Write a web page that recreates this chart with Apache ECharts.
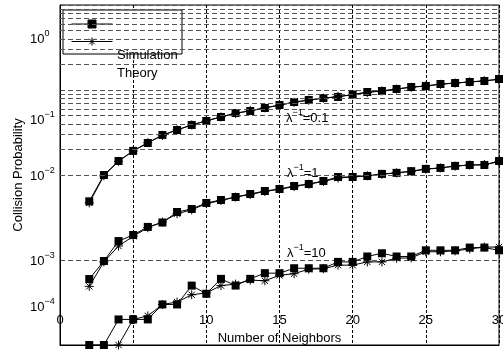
<!DOCTYPE html>
<html><head><meta charset="utf-8">
<script src="https://cdn.jsdelivr.net/npm/echarts@6/dist/echarts.min.js"></script>
<style>html,body{margin:0;padding:0;background:#fff}#c{width:503px;height:352px}</style>
</head><body><div id="c"></div>
<script>
// ---- data ----
const neighbors = [2,3,4,5,6,7,8,9,10,11,12,13,14,15,16,17,18,19,20,21,22,23,24,25,26,27,28,29,30];
// lambda^-1 = 0.1
const simA = [0.0049,0.0100,0.0146,0.0192,0.0238,0.0296,0.0338,0.0388,0.0432,0.0481,0.0536,0.0566,0.0614,0.0666,0.0722,0.0762,0.0805,0.0828,0.0885,0.0947,0.0973,0.1028,0.1085,0.1115,0.1177,0.1209,0.1242,0.1276,0.1347];
const thA  = [0.0047,0.0098,0.0145,0.0192,0.0240,0.0292,0.0340,0.0388,0.0435,0.0482,0.0530,0.0572,0.0618,0.0662,0.0718,0.0760,0.0800,0.0840,0.0880,0.0935,0.0975,0.1025,0.1075,0.1115,0.1165,0.1205,0.1245,0.1285,0.1330];
// lambda^-1 = 1
const simB = [0.000597,0.000973,0.00167,0.00197,0.00245,0.00276,0.00367,0.00398,0.00469,0.00508,0.00551,0.00598,0.00648,0.00684,0.00743,0.00784,0.00850,0.00947,0.00947,0.00973,0.0103,0.0106,0.0111,0.0118,0.0121,0.0128,0.0131,0.0131,0.0146];
const thB  = [0.00049,0.00095,0.00146,0.0019,0.0024,0.0028,0.0035,0.0039,0.0046,0.0050,0.0055,0.0059,0.0064,0.0068,0.0073,0.0078,0.0084,0.0092,0.0095,0.0098,0.0102,0.0106,0.0110,0.0117,0.0121,0.0127,0.0131,0.0133,0.0143];
// lambda^-1 = 10
const simC = [0.0001,0.0001,0.0002,0.0002,0.0002,0.0003,0.0003,0.0005,0.0004,0.0006,0.0005,0.0006,0.0007,0.0007,0.0008,0.0008,0.0008,0.00095,0.00095,0.0011,0.0012,0.0011,0.0011,0.0013,0.0013,0.0013,0.0014,0.0014,0.0013];
const thC  = [null,null,0.0001,0.0002,0.00022,0.0003,0.00032,0.00039,0.00041,0.0005,0.00052,0.00058,0.00057,0.00066,0.00069,0.00078,0.00079,0.00087,0.00087,0.00095,0.00095,0.00105,0.00106,0.00125,0.00125,0.00128,0.00135,0.00142,0.00142];
const lambdaInv = ['0.1','1','10'];
const legendNames = ['Simulation','Theory'];
const xTicks = [0,5,10,15,20,25,30];
const yDecades = [1e-4,1e-3,1e-2,1e-1,1];
const yTickLabels = [['10','\u22124'],['10','\u22123'],['10','\u22122'],['10','\u22121'],['10','0']];

// ---- styling ----
const FONT = '"Liberation Sans", Arial, Helvetica, sans-serif';
const STAR = 'path://M10,0L10,20M0,10L20,10M3,3L17,17M3,17L17,3';
const yLabelShift = [-38, 1, 1, 30, 34]; // label offset from its tick (px), same order as yDecades
const annotPos = [[286, 118], [287, 173], [287, 253]];
const supRich = {
  l: {fontSize: 13, fontFamily: FONT, color: '#000', verticalAlign: 'middle'},
  s: {fontSize: 9, fontFamily: FONT, color: '#000', verticalAlign: 'middle', padding: [0, 0, 11, 0]}
};

// minor horizontal grid lines at 2..9 x each decade
const minorGrid = [];
for (let d = 0; d < yDecades.length - 1; d++) {
  for (let m = 2; m <= 9; m++) minorGrid.push(+(yDecades[d] * m).toPrecision(3));
}

function mk(name, vals, symbol, size, extra) {
  return Object.assign({
    name, type: 'line', data: neighbors.map((x, i) => [x, vals[i]]),
    symbol, symbolSize: size, showAllSymbol: true, clip: true,
    lineStyle: {color: '#000', width: 1},
    itemStyle: {color: '#000', borderColor: '#000', borderWidth: symbol === STAR ? 1 : 0},
    emphasis: {disabled: true}, silent: true, animation: false
  }, extra || {});
}

const chart = echarts.init(document.getElementById('c'), null, {renderer: 'canvas'});
const option = {
  animation: false,
  grid: {left: 60, right: 4, top: 5, bottom: 7, containLabel: false, outerBoundsMode: 'none',
         show: true, borderColor: '#000', borderWidth: 1, backgroundColor: '#fff'},
  xAxis: {
    type: 'value', min: 0, max: 30, interval: 5,
    name: 'Number of Neighbors', nameLocation: 'middle', nameGap: -7, nameMoveOverlap: false,
    nameTextStyle: {fontSize: 13, fontFamily: FONT, color: '#000', verticalAlign: 'middle'},
    axisLine: {show: true, lineStyle: {color: '#000', width: 1}},
    axisTick: {show: false},
    axisLabel: {inside: true, margin: 18, fontSize: 13, fontFamily: FONT, color: '#000',
      showMinLabel: true, showMaxLabel: true,
      formatter: v => xTicks.indexOf(v) >= 0 ? String(v) : ''},
    splitLine: {show: true, lineStyle: {color: '#000', width: 1, type: [3, 2]}}
  },
  yAxis: {
    type: 'log', logBase: 10, min: 1e-4, max: 1,
    name: 'Collision Probability', nameLocation: 'middle', nameGap: 42, nameMoveOverlap: false,
    nameTextStyle: {fontSize: 13, fontFamily: FONT, color: '#000', verticalAlign: 'middle'},
    axisLine: {show: true, lineStyle: {color: '#000', width: 1}},
    axisTick: {show: false},
    axisLabel: {show: false},
    splitLine: {show: true, lineStyle: {color: '#555', width: 1, type: [5, 3]}}
  },
  legend: [
    {data: legendNames, orient: 'vertical', left: 63, top: 10, itemWidth: 41, itemHeight: 10, itemGap: 8,
     formatter: () => '', backgroundColor: '#fff', borderColor: '#000', borderWidth: 1, borderRadius: 0,
     padding: [9, 69, 8, 8], selectedMode: false, textStyle: {fontSize: 13, fontFamily: FONT},
     itemStyle: {borderWidth: 1, borderColor: '#000'}, lineStyle: {width: 1, color: '#000'}},
    {data: legendNames, orient: 'vertical', left: 110, top: 48, itemWidth: 1, itemHeight: 14, itemGap: 3,
     icon: 'rect', itemStyle: {opacity: 0}, lineStyle: {opacity: 0}, padding: 0, selectedMode: false,
     textStyle: {fontSize: 13, fontFamily: FONT, color: '#000'}}
  ],
  series: [
    mk('Simulation', simA, 'rect', 8, {markLine: {
      silent: true, symbol: ['none', 'none'], label: {show: false}, animation: false,
      lineStyle: {color: '#555', width: 1, type: [5, 3]},
      data: minorGrid.map(v => ({yAxis: v}))}}),
    mk('Theory', thA, STAR, 9),
    mk('Simulation', simB, 'rect', 8),
    mk('Theory', thB, STAR, 9),
    mk('Simulation', simC, 'rect', 8),
    mk('Theory', thC, STAR, 9)
  ]
};
chart.setOption(option);

// y tick labels (placed relative to their decade ticks) and curve annotations
const graphics = [];
yDecades.forEach((v, i) => {
  const py = chart.convertToPixel({yAxisIndex: 0}, v);
  graphics.push({type: 'text', x: 30, y: py + yLabelShift[i], z: 100, silent: true,
    style: {text: '{l|' + yTickLabels[i][0] + '}{s|' + yTickLabels[i][1] + '}', align: 'left', verticalAlign: 'middle', rich: supRich}});
});
lambdaInv.forEach((v, i) => {
  graphics.push({type: 'text', x: annotPos[i][0], y: annotPos[i][1], z: 100, silent: true,
    style: {text: '{l|\u03bb}{s|\u22121}{l|=' + v + '}', align: 'left', verticalAlign: 'middle', rich: supRich}});
});
chart.setOption({graphic: graphics});
</script></body></html>
